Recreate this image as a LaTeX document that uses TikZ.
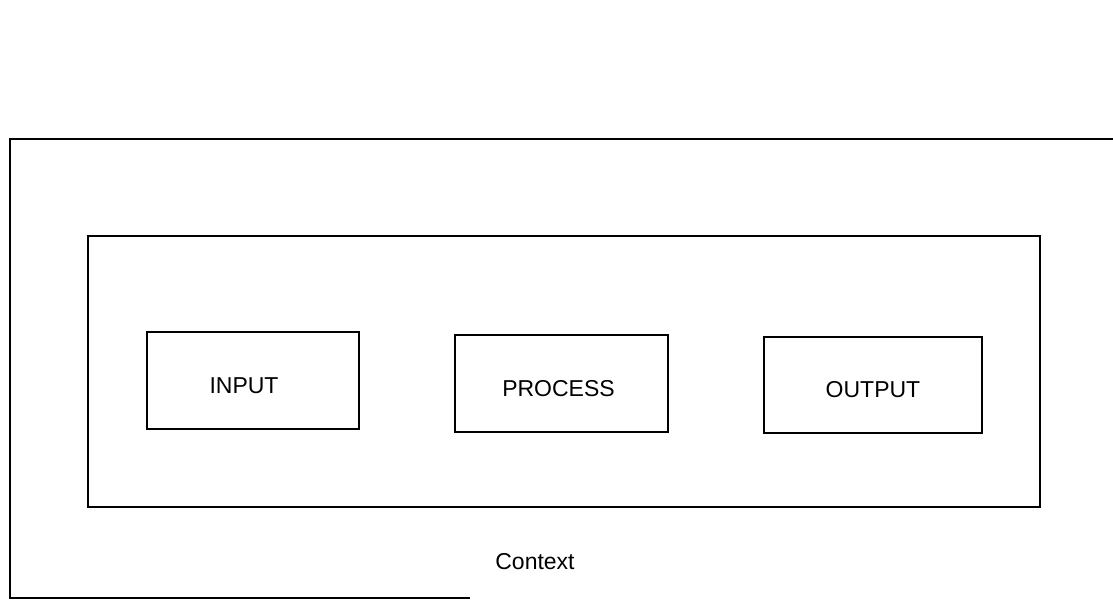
\documentclass[tikz,border=0pt]{standalone}
\usepackage{fontspec}
\setmainfont{Liberation Sans}

\begin{document}
\begin{tikzpicture}[x=0.5pt, y=-0.5pt, line width=1.2pt,
  box/.style = {shape=rectangle, draw, minimum width=106pt,
    minimum height=48.5pt, inner sep=0pt, align=center},
  every label/.style = {yshift=-2.5pt},
  every node/.style = {font=\fontsize{11.5}{13}\selectfont}]
  \useasboundingbox (0,0) rectangle (1113,604);
  % context frame, cut off at the right
  \draw (1113,139) -- (10,139) -- (10,598) -- (470,598);
  \node[box, minimum width=476pt, minimum height=135.5pt] (system) at (564,371.5) {};
  \node[box, label={[xshift=-4.5pt]center:INPUT}] (input) at (253,380.5) {};
  \node[box, minimum width=106.5pt, label={[xshift=-1.5pt]center:PROCESS}] (process) at (561.5,383.5) {};
  \node[box, minimum width=109pt, minimum height=48pt, label={center:OUTPUT}] (output) at (873,385) {};
  \node (context) at (535,562) {Context};
\end{tikzpicture}
\end{document}
